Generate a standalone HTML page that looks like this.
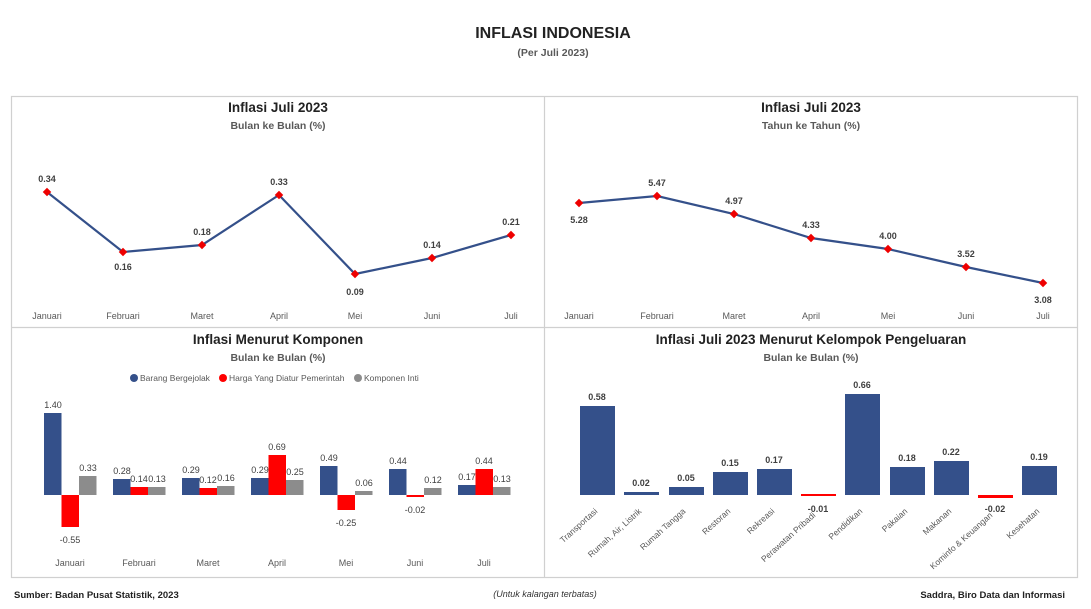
<!DOCTYPE html>
<html><head><meta charset="utf-8"><style>
body{margin:0;background:#fff;}
svg{display:block;font-family:"Liberation Sans",sans-serif;}
.t{font-weight:bold;fill:#222;text-anchor:middle}
.s{font-weight:bold;fill:#595959;font-size:10.5px;text-anchor:middle}
.v{font-size:9px;fill:#404040;text-anchor:middle;font-weight:bold}
.c{font-size:9px;fill:#595959;text-anchor:middle}
.b{font-size:9px;fill:#404040;text-anchor:middle}
</style></head><body>
<svg width="1091" height="609" viewBox="0 0 1091 609">
<text x="553" y="38" class="t" font-size="16">INFLASI INDONESIA</text>
<text x="553" y="56" class="s">(Per Juli 2023)</text>
<g fill="none" stroke="#d0d0d0" stroke-width="1.2">
<rect x="11.5" y="96.5" width="1066" height="481"/>
<line x1="544.5" y1="96" x2="544.5" y2="578"/>
<line x1="11" y1="327.5" x2="1078" y2="327.5"/>
</g>
<!-- top-left -->
<text x="278" y="112" class="t" font-size="13.5">Inflasi Juli 2023</text>
<text x="278" y="129" class="s">Bulan ke Bulan (%)</text>
<polyline fill="none" stroke="#34508a" stroke-width="2.2" points="47,192 123,252 202,245 279,195 355,274 432,258 511,235"/>
<g fill="#e00">
<rect x="44" y="189" width="6" height="6" transform="rotate(45 47 192)"/><rect x="120" y="249" width="6" height="6" transform="rotate(45 123 252)"/><rect x="199" y="242" width="6" height="6" transform="rotate(45 202 245)"/><rect x="276" y="192" width="6" height="6" transform="rotate(45 279 195)"/><rect x="352" y="271" width="6" height="6" transform="rotate(45 355 274)"/><rect x="429" y="255" width="6" height="6" transform="rotate(45 432 258)"/><rect x="508" y="232" width="6" height="6" transform="rotate(45 511 235)"/>
</g>
<text class="v" x="47" y="182">0.34</text><text class="v" x="123" y="270">0.16</text><text class="v" x="202" y="235">0.18</text><text class="v" x="279" y="185">0.33</text><text class="v" x="355" y="295">0.09</text><text class="v" x="432" y="248">0.14</text><text class="v" x="511" y="225">0.21</text>
<g class="c"><text x="47" y="319">Januari</text><text x="123" y="319">Februari</text><text x="202" y="319">Maret</text><text x="279" y="319">April</text><text x="355" y="319">Mei</text><text x="432" y="319">Juni</text><text x="511" y="319">Juli</text></g>
<!-- top-right -->
<text x="811" y="112" class="t" font-size="13.5">Inflasi Juli 2023</text>
<text x="811" y="129" class="s">Tahun ke Tahun (%)</text>
<polyline fill="none" stroke="#34508a" stroke-width="2.2" points="579,203 657,196 734,214 811,238 888,249 966,267 1043,283"/>
<g fill="#e00">
<rect x="576" y="200" width="6" height="6" transform="rotate(45 579 203)"/><rect x="654" y="193" width="6" height="6" transform="rotate(45 657 196)"/><rect x="731" y="211" width="6" height="6" transform="rotate(45 734 214)"/><rect x="808" y="235" width="6" height="6" transform="rotate(45 811 238)"/><rect x="885" y="246" width="6" height="6" transform="rotate(45 888 249)"/><rect x="963" y="264" width="6" height="6" transform="rotate(45 966 267)"/><rect x="1040" y="280" width="6" height="6" transform="rotate(45 1043 283)"/>
</g>
<text class="v" x="579" y="223">5.28</text><text class="v" x="657" y="186">5.47</text><text class="v" x="734" y="204">4.97</text><text class="v" x="811" y="228">4.33</text><text class="v" x="888" y="239">4.00</text><text class="v" x="966" y="257">3.52</text><text class="v" x="1043" y="303">3.08</text>
<g class="c"><text x="579" y="319">Januari</text><text x="657" y="319">Februari</text><text x="734" y="319">Maret</text><text x="811" y="319">April</text><text x="888" y="319">Mei</text><text x="966" y="319">Juni</text><text x="1043" y="319">Juli</text></g>
<!-- bottom-left -->
<text x="278" y="344" class="t" font-size="13.5">Inflasi Menurut Komponen</text>
<text x="278" y="361" class="s">Bulan ke Bulan (%)</text>
<g font-size="8.5" fill="#595959">
<circle cx="134" cy="378" r="4" fill="#34508a"/><text x="140" y="381">Barang Bergejolak</text>
<circle cx="223" cy="378" r="4" fill="#f00"/><text x="229" y="381">Harga Yang Diatur Pemerintah</text>
<circle cx="358" cy="378" r="4" fill="#8c8c8c"/><text x="364" y="381">Komponen Inti</text>
</g>
<g>
<rect x="44" y="413" width="17.5" height="82" fill="#34508a"/><rect x="61.5" y="495" width="17.5" height="32" fill="#f00"/><rect x="79" y="476" width="17.5" height="19" fill="#8c8c8c"/>
<rect x="113" y="479" width="17.5" height="16" fill="#34508a"/><rect x="130.5" y="487" width="17.5" height="8" fill="#f00"/><rect x="148" y="487" width="17.5" height="8" fill="#8c8c8c"/>
<rect x="182" y="478" width="17.5" height="17" fill="#34508a"/><rect x="199.5" y="488" width="17.5" height="7" fill="#f00"/><rect x="217" y="486" width="17.5" height="9" fill="#8c8c8c"/>
<rect x="251" y="478" width="17.5" height="17" fill="#34508a"/><rect x="268.5" y="455" width="17.5" height="40" fill="#f00"/><rect x="286" y="480" width="17.5" height="15" fill="#8c8c8c"/>
<rect x="320" y="466" width="17.5" height="29" fill="#34508a"/><rect x="337.5" y="495" width="17.5" height="15" fill="#f00"/><rect x="355" y="491" width="17.5" height="4" fill="#8c8c8c"/>
<rect x="389" y="469" width="17.5" height="26" fill="#34508a"/><rect x="406.5" y="495" width="17.5" height="2" fill="#f00"/><rect x="424" y="488" width="17.5" height="7" fill="#8c8c8c"/>
<rect x="458" y="485" width="17.5" height="10" fill="#34508a"/><rect x="475.5" y="469" width="17.5" height="26" fill="#f00"/><rect x="493" y="487" width="17.5" height="8" fill="#8c8c8c"/>
</g>
<g class="b">
<text x="53" y="408">1.40</text><text x="70" y="543">-0.55</text><text x="88" y="471">0.33</text>
<text x="122" y="474">0.28</text><text x="139" y="482">0.14</text><text x="157" y="482">0.13</text>
<text x="191" y="473">0.29</text><text x="208" y="483">0.12</text><text x="226" y="481">0.16</text>
<text x="260" y="473">0.29</text><text x="277" y="450">0.69</text><text x="295" y="475">0.25</text>
<text x="329" y="461">0.49</text><text x="346" y="526">-0.25</text><text x="364" y="486">0.06</text>
<text x="398" y="464">0.44</text><text x="415" y="513">-0.02</text><text x="433" y="483">0.12</text>
<text x="467" y="480">0.17</text><text x="484" y="464">0.44</text><text x="502" y="482">0.13</text>
</g>
<g class="c"><text x="70" y="566">Januari</text><text x="139" y="566">Februari</text><text x="208" y="566">Maret</text><text x="277" y="566">April</text><text x="346" y="566">Mei</text><text x="415" y="566">Juni</text><text x="484" y="566">Juli</text></g>
<!-- bottom-right -->
<text x="811" y="344" class="t" font-size="13.5">Inflasi Juli 2023 Menurut Kelompok Pengeluaran</text>
<text x="811" y="361" class="s">Bulan ke Bulan (%)</text>
<g fill="#34508a">
<rect x="580" y="406" width="35" height="89"/><rect x="624" y="492" width="35" height="3"/><rect x="669" y="487" width="35" height="8"/><rect x="713" y="472" width="35" height="23"/><rect x="757" y="469" width="35" height="26"/><rect x="845" y="394" width="35" height="101"/><rect x="890" y="467" width="35" height="28"/><rect x="934" y="461" width="35" height="34"/><rect x="1022" y="466" width="35" height="29"/>
</g>
<rect x="801" y="494" width="35" height="2" fill="#f00"/><rect x="978" y="495" width="35" height="3" fill="#f00"/>
<g class="v">
<text x="597" y="400">0.58</text><text x="641" y="486">0.02</text><text x="686" y="481">0.05</text><text x="730" y="466">0.15</text><text x="774" y="463">0.17</text><text x="818" y="512">-0.01</text><text x="862" y="388">0.66</text><text x="907" y="461">0.18</text><text x="951" y="455">0.22</text><text x="995" y="512">-0.02</text><text x="1039" y="460">0.19</text>
</g>
<g font-size="8.5" fill="#595959" text-anchor="end">
<text transform="translate(598,512) rotate(-42)">Transportasi</text>
<text transform="translate(642,512) rotate(-42)">Rumah, Air, Listrik</text>
<text transform="translate(686,512) rotate(-42)">Rumah Tangga</text>
<text transform="translate(731,512) rotate(-42)">Restoran</text>
<text transform="translate(775,512) rotate(-42)">Rekreasi</text>
<text transform="translate(816,516) rotate(-42)">Perawatan Pribadi</text>
<text transform="translate(863,512) rotate(-42)">Pendidikan</text>
<text transform="translate(908,512) rotate(-42)">Pakaian</text>
<text transform="translate(952,512) rotate(-42)">Makanan</text>
<text transform="translate(993,516) rotate(-42)">Kominfo &amp; Keuangan</text>
<text transform="translate(1040,512) rotate(-42)">Kesehatan</text>
</g>
<!-- footer -->
<text x="14" y="598" font-size="9.5" font-weight="bold" fill="#222">Sumber: Badan Pusat Statistik, 2023</text>
<text x="545" y="597" font-size="9" font-style="italic" fill="#333" text-anchor="middle">(Untuk kalangan terbatas)</text>
<text x="1065" y="598" font-size="9.5" font-weight="bold" fill="#222" text-anchor="end">Saddra, Biro Data dan Informasi</text>
</svg>
</body></html>
